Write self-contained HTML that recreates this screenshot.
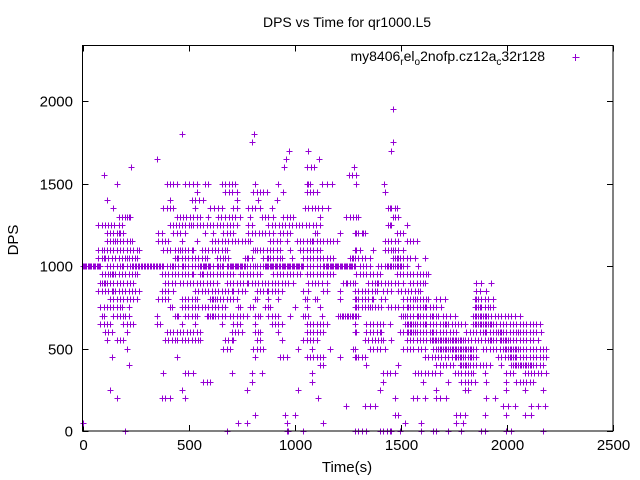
<!DOCTYPE html>
<html><head><meta charset="utf-8"><style>
html,body{margin:0;padding:0;background:#fff;}
svg{display:block;font-family:"Liberation Sans",sans-serif;}
</style></head><body>
<svg id="chart" width="640" height="480" viewBox="0 0 640 480" xmlns="http://www.w3.org/2000/svg">
<rect x="0" y="0" width="640" height="480" fill="#fff"/>
<text x="347" y="27" font-size="14" text-anchor="middle">DPS vs Time for qr1000.L5</text>
<text transform="translate(18,240) rotate(-90)" font-size="15" text-anchor="middle">DPS</text>
<text x="347" y="472" font-size="15" text-anchor="middle">Time(s)</text>
<g id="axes"></g>
<g id="points"></g>
<g>
<text x="545" y="61" font-size="14" text-anchor="end">my8406<tspan font-size="10" dy="4">r</tspan><tspan dy="-4">el</tspan><tspan font-size="10" dy="4">o</tspan><tspan dy="-4">2nofp.cz12a</tspan><tspan font-size="10" dy="4">c</tspan><tspan dy="-4">32r128</tspan></text>
<path d="M572.5 57.5h7M575.5 54v7" stroke="#9400d3" stroke-width="1" fill="none"/>
</g>
<rect x="82.5" y="45.5" width="530.5" height="385.5" fill="none" stroke="#000" stroke-width="1"/>
</svg>
<script>
const xTicks = [0, 500, 1000, 1500, 2000, 2500];
const yTicks = [0, 500, 1000, 1500, 2000];
const levels = [1950,1800,1750,1700,1650,1600,1550,1500,1450,1400,1350,1300,1250,1200,1150,1100,1050,1000,950,900,850,800,750,700,650,600,550,500,450,400,350,300,250,200,150,100,50,0];
const timesByLevel = [
"1465",
"470 810",
"800 1465",
"975 1065 1455",
"350 960 1115",
"230 950 1060 1075 1090 1280",
"100 1255 1270 1290",
"162 397 412 428 444 483 500 520 538 577 593 656 672 690 705 719 813 923 1056 1064 1072 1127 1150 1174 1291 1420",
"538 672 690 705 727 805 820 836 850 868 946 1056 1072 1088 1103 1425",
"115 413 515 530 550 570 727 828 915",
"146 381 397 413 428 530 601 620 640 656 711 727 781 797 813 836 891 1048 1064 1080 1095 1111 1127 1158 1440 1448 1456 1472 1480",
"170 185 200 210 217 225 444 460 475 490 505 520 538 554 593 640 655 670 690 705 720 742 789 844 860 876 899 946 962 978 993 1119 1244 1260 1276 1291 1299 1464 1475 1488",
"75 90 105 120 135 150 170 185 413 428 440 455 470 483 500 510 522 538 554 570 585 600 615 632 648 664 680 695 711 727 781 797 876 892 908 924 940 956 972 988 1004 1020 1036 1052 1068 1084 1100 1119 1440 1448 1456 1527",
"115 130 146 162 170 177 193 358 373 428 445 460 483 577 617 664 680 695 711 781 797 813 830 846 862 880 899 931 946 962 978 1095 1103 1213 1291 1283 1299 1315 1320 1331 1480 1495 1511",
"115 130 146 154 162 177 193 209 225 232 358 373 389 405 468 538 609 625 640 656 672 687 703 718 734 750 766 781 789 884 899 915 931 962 1009 1025 1040 1056 1072 1080 1088 1103 1119 1135 1150 1166 1182 1197 1425 1440 1456 1472 1488 1527 1542 1558 1574",
"75 90 100 115 130 146 162 177 193 209 225 240 256 264 381 397 413 436 452 460 468 483 499 515 522 562 578 593 609 625 640 656 672 679 805 813 821 836 852 868 884 899 915 931 978 1025 1040 1056 1072 1088 1103 1119 1283 1291 1307 1370 1425 1440 1456 1464 1472 1488 1511",
"75 90 99 107 122 138 154 170 185 201 209 217 232 248 256 436 444 452 468 483 499 515 530 546 562 578 585 632 648 664 672 687 766 774 782 797 852 868 876 884 899 915 931 938 985 1040 1056 1072 1088 1103 1119 1135 1150 1166 1182 1276 1260 1268 1283 1299 1315 1331 1354 1464 1472 1480 1488 1495 1511 1527 1542 1566 1613",
"0 6 12 18 24 30 36 42 48 54 60 66 72 78 83 115 130 146 162 177 185 193 209 225 232 240 247 254 261 268 275 282 289 296 303 310 317 324 331 338 345 352 359 366 373 381 397 413 420 428 436 452 468 475 483 499 515 530 546 554 560 566 572 578 584 590 596 601 617 632 640 648 656 664 679 687 693 699 705 711 717 723 729 735 741 747 753 759 765 773 789 805 813 821 836 852 858 864 870 876 882 888 894 900 906 912 918 924 931 938 944 950 956 962 968 974 980 986 992 998 1004 1010 1016 1022 1028 1034 1040 1056 1072 1088 1103 1119 1134 1140 1146 1152 1158 1164 1170 1176 1182 1188 1194 1200 1206 1212 1218 1224 1230 1236 1242 1248 1254 1260 1266 1272 1278 1283 1307 1322 1338 1354 1393 1409 1425 1433 1440 1448 1456 1464 1472 1480 1488 1495 1503 1511 1527 1582",
"91 107 122 130 138 146 154 170 185 201 217 232 248 256 373 389 405 420 436 452 468 483 499 515 522 554 562 570 585 601 617 632 648 664 679 695 711 742 758 774 789 805 821 836 899 915 931 946 962 978 993 1009 1025 1056 1072 1088 1103 1119 1134 1150 1166 1182 1291 1307 1322 1338 1354 1370 1386 1401 1480 1495 1511 1527 1542 1558 1574 1590 1605 1621 1629",
"83 91 99 107 115 130 146 162 177 193 209 225 240 389 405 420 436 460 475 491 507 522 538 554 570 585 601 617 632 679 695 711 726 742 758 773 781 797 813 828 844 860 876 891 907 923 938 954 970 993 1064 1080 1095 1111 1127 1150 1244 1260 1276 1229 1245 1283 1346 1362 1378 1386 1393 1409 1425 1440 1456 1472 1488 1511 1542 1558 1574 1590 1605 1613 1856 1880 1927",
"75 91 107 122 138 146 154 170 185 201 217 232 248 264 373 389 405 428 530 546 562 578 593 609 625 640 656 672 687 703 711 734 750 766 821 836 852 868 876 891 907 923 938 1040 1064 1134 1150 1213 1283 1299 1315 1331 1346 1362 1378 1386 1417 1433 1456 1488 1503 1519 1535 1550 1566 1582 1590 1856 1872 1903",
"130 146 162 177 193 209 225 240 256 358 373 389 405 468 483 499 515 530 538 601 609 617 625 632 648 664 679 695 711 727 813 821 876 923 1048 1056 1095 1103 1213 1291 1283 1299 1315 1331 1346 1362 1370 1409 1425 1511 1527 1542 1558 1566 1574 1590 1605 1621 1629 1668 1684 1707 1848 1856 1864 1880 1895 1911 1935",
"83 99 115 130 146 162 177 185 217 413 421 468 483 499 515 530 546 562 578 593 609 625 640 656 672 734 742 789 805 860 876 884 1001 1056 1119 1291 1283 1299 1315 1331 1346 1354 1362 1378 1393 1409 1440 1456 1472 1488 1511 1527 1535 1542 1558 1574 1590 1605 1613 1621 1637 1652 1668 1691 1848 1856 1864 1872 1880 1895 1911 1919 1935",
"91 99 146 162 177 193 201 217 350 436 444 452 483 499 515 530 538 585 593 601 609 617 625 640 656 672 695 711 726 742 758 773 813 828 836 876 891 907 923 978 1040 1048 1064 1127 1205 1221 1236 1252 1268 1283 1291 1213 1229 1245 1260 1276 1299 1503 1511 1519 1527 1542 1558 1574 1582 1590 1605 1621 1637 1645 1652 1668 1676 1699 1715 1731 1754 1841 1848 1856 1864 1872 1880 1888 1895 1903 1911 1927 1942 1958 1974 1990 2005 2021 2037 2060",
"83 99 115 130 193 209 225 240 350 366 468 530 656 711 726 742 813 891 907 923 938 1056 1072 1088 1103 1119 1134 1150 1283 1338 1354 1370 1386 1401 1417 1448 1519 1527 1535 1542 1550 1558 1566 1574 1590 1605 1613 1621 1637 1652 1668 1684 1699 1707 1715 1723 1739 1754 1770 1785 1801 1841 1848 1856 1864 1872 1880 1888 1895 1903 1911 1919 1927 1935 1950 1966 1982 1997 2013 2029 2044 2060 2076 2091 2107 2123 2138 2154",
"107 122 138 209 397 413 428 444 460 475 491 507 522 538 554 703 718 734 750 813 828 836 923 1056 1072 1088 1103 1119 1134 1291 1283 1338 1354 1370 1386 1401 1409 1495 1511 1527 1535 1542 1550 1558 1566 1574 1590 1605 1621 1637 1645 1652 1668 1684 1699 1715 1731 1746 1762 1809 1825 1841 1856 1872 1888 1895 1903 1919 1935 1950 1958 1966 1974 1982 1997 2013 2029 2044 2052 2060 2076 2091 2107 2123 2138 2162",
"115 162 177 193 389 405 420 436 444 468 483 499 515 530 546 554 672 687 703 711 821 836 938 1040 1056 1072 1088 1103 1331 1346 1362 1378 1393 1409 1417 1456 1527 1542 1558 1574 1590 1605 1621 1637 1645 1652 1660 1668 1676 1684 1691 1699 1707 1715 1723 1731 1739 1746 1754 1762 1770 1778 1785 1793 1801 1817 1833 1848 1864 1880 1895 1911 1919 1927 1935 1950 1966 1974 1982 1990 1997 2005 2013 2029 2044 2060 2076 2091 2107 2123 2146",
"209 664 680 695 805 821 836 852 1017 1080 1166 1276 1283 1354 1370 1386 1401 1425 1511 1527 1542 1558 1582 1597 1613 1652 1668 1676 1684 1691 1699 1707 1715 1723 1731 1739 1746 1754 1762 1770 1778 1785 1793 1801 1809 1817 1825 1833 1841 1856 1888 1903 1919 1935 1950 1966 1982 1990 1997 2005 2013 2021 2029 2037 2044 2052 2060 2076 2091 2107 2123 2138 2154 2170 2186",
"138 444 813 931 946 962 1056 1072 1088 1103 1119 1134 1213 1283 1291 1299 1315 1331 1613 1629 1645 1660 1676 1691 1707 1723 1739 1754 1762 1770 1778 1785 1793 1801 1817 1825 1833 1841 1856 1958 1974 1990 2005 2013 2021 2029 2037 2044 2060 2076 2091 2107 2123 2138 2154 2170 2186",
"217 1119 1134 1338 1488 1668 1684 1699 1715 1731 1746 1778 1785 1793 1801 1809 1817 1825 1841 1856 1872 1888 1903 1919 1974 2021 2029 2037 2044 2052 2060 2068 2076 2084 2091 2099 2107 2115 2123 2138 2154 2170",
"381 483 499 522 703 797 844 1080 1417 1433 1448 1472 1566 1582 1597 1613 1629 1645 1660 1684 1754 1770 1785 1801 1817 1833 1841 1895 1997 2013 2029 2084 2099 2115 2130 2146 2162 2186",
"570 585 601 797 1080 1417 1605 1723 1786 1801 1817 1833 1848 1903 1997 2044 2060 2076 2091 2107 2123",
"130 468 773 1017 1401 1668 1801 1817 1997 2084 2170",
"162 373 389 413 483 1111 1472 1558 1574 1613 1668 1684 1715 1903 1942",
"1244 1331 1354 1378 1982 2005 2037 2115 2146 2178",
"813 954 1001 1472 1488 1762 1778 1801 1895 1997 2084 2115",
"0 734 773 962 1134 1519 1597 1762 1793",
"201 680 962 970 1040 1283 1299 1315 1338 1401 1417 1433 1448 1456 1495 1597 1652 1668 1723 1786 1880 1895 1997 2021 2170"
];

const NS = "http://www.w3.org/2000/svg";
const X0 = 82.5, X1 = 613;
function xScale(t){ return X0 + (t / 2500) * (X1 - X0); }
function yScale(v){ return 431 - v * (330 / 2000); }

const axes = document.getElementById('axes');
yTicks.forEach(v => {
  const y = Math.round(yScale(v)) + 0.5;
  const tk = document.createElementNS(NS, 'path');
  tk.setAttribute('d', `M${X0} ${y}h6M${X1} ${y}h-6`);
  tk.setAttribute('stroke', '#000');
  
  
  axes.appendChild(tk);
  const lb = document.createElementNS(NS, 'text');
  lb.setAttribute('x', 73);
  lb.setAttribute('y', y + 5);
  lb.setAttribute('font-size', '15');
  lb.setAttribute('text-anchor', 'end');
  lb.textContent = v;
  
  
  axes.appendChild(lb);
});
xTicks.forEach(t => {
  const x = Math.round(xScale(t)) + 0.5;
  const tk = document.createElementNS(NS, 'path');
  tk.setAttribute('d', `M${x} 431v-6M${x} 45.5v6`);
  tk.setAttribute('stroke', '#000');
  
  
  axes.appendChild(tk);
  const lb = document.createElementNS(NS, 'text');
  lb.setAttribute('x', x);
  lb.setAttribute('y', 450);
  lb.setAttribute('font-size', '15');
  lb.setAttribute('text-anchor', 'middle');
  lb.textContent = t;
  
  
  axes.appendChild(lb);
});

const pts = document.getElementById('points');
levels.forEach((v, i) => {
  const y = Math.round(yScale(v)) + 0.5;
  timesByLevel[i].split(' ').map(Number).forEach(t => {
    const x = Math.round(xScale(t)) + 0.5;
    const p = document.createElementNS(NS, 'path');
    p.setAttribute('d', `M${x-3} ${y}h6M${x} ${y-3}v6`);
    p.setAttribute('stroke', '#9400d3');
    p.setAttribute('fill', 'none');
    
    
    pts.appendChild(p);
  });
});
</script>
</body></html>
